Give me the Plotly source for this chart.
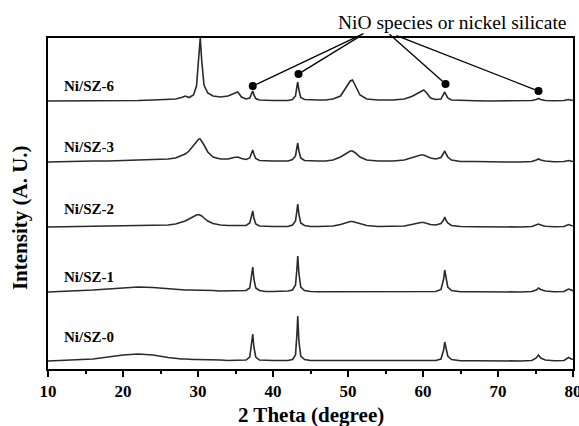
import plotly.graph_objects as go

# 2-theta sampling grid (degrees)
theta = [10, 12, 14, 16, 18, 20, 22, 24, 26, 27,
         27.8, 28.3, 28.8, 29.4, 29.8, 30.1, 30.3, 30.5, 30.8, 31.3,
         32, 33, 34, 34.8, 35.3, 35.8, 36.4, 36.9, 37.15, 37.3,
         37.45, 37.7, 38.2, 39, 40, 41, 42, 42.6, 43.0, 43.2,
         43.3, 43.45, 43.7, 44.2, 45, 46, 47, 48, 49, 49.8,
         50.3, 50.6, 51, 51.6, 52.5, 54, 56, 57.5, 58.5, 59.2,
         59.7, 60.1, 60.5, 61, 61.7, 62.4, 62.75, 62.9, 63.05, 63.3,
         63.8, 65, 67, 69, 71, 73, 74.5, 75.1, 75.4, 75.7,
         76.3, 77.5, 78.8, 79.4, 79.8, 80]

samples = ["Ni/SZ-0", "Ni/SZ-1", "Ni/SZ-2", "Ni/SZ-3", "Ni/SZ-6"]

sz0 = [0, 0.5, 1, 2, 4, 6, 7, 6, 3.5, 2.5,
       2, 2, 1.5, 1.5, 1.5, 1.5, 1.5, 1.5, 1.5, 1,
       1, 1, 0.5, 0.5, 0.5, 0.5, 1, 4, 17, 27,
       14, 4, 1, 0.5, 0.5, 0.5, 0.5, 1.5, 6, 28,
       45, 20, 5, 1.5, 0.5, 0.5, 0.5, 0.5, 0.5, 0.5,
       0.5, 0.5, 0.5, 0.5, 0.3, 0.3, 0.3, 0.3, 0.3, 0.3,
       0.3, 0.3, 0.3, 0.3, 0.5, 2, 11, 19, 12, 5,
       1.5, 0.3, 0.3, 0, 0, 0, 0.5, 3, 6, 3,
       1, 0.3, 0.5, 3.5, 2, 1.5]
sz1 = [0, 0.5, 1, 2, 3, 4, 5, 4.5, 3, 2.5,
       2, 2, 2, 2, 1.5, 1.5, 1.5, 1.5, 1.5, 1.5,
       1.5, 1, 1, 1, 1, 1, 1.5, 4, 16, 25,
       13, 4, 1.5, 0.5, 0.5, 0.5, 1, 2, 7, 24,
       36, 19, 5, 1.5, 0.5, 0.3, 0.3, 0.3, 0.3, 0.3,
       0.3, 0.3, 0.3, 0.3, 0.3, 0.3, 0.3, 0.3, 0.3, 0.3,
       0.3, 0.3, 0.3, 0.3, 0.5, 2.5, 13, 22, 14, 5,
       1.5, 0.3, 0.3, 0, 0, 0, 0.5, 2, 4, 2.5,
       1, 0.3, 0.5, 3, 2, 1]
sz2 = [0, 0.3, 0.5, 1, 1, 1.5, 1.5, 1.5, 2, 3,
       4.5, 6, 8, 10.5, 12, 12.5, 12, 11, 9, 6,
       3.5, 2, 1.5, 1.5, 1.5, 1.5, 1.5, 4, 11, 16,
       9, 3, 1, 0.5, 0.5, 0.5, 0.5, 2, 6, 17,
       23, 13, 4, 1.5, 0.5, 0.5, 0.5, 1, 2.5, 4.5,
       5.5, 5.5, 4.5, 3, 1.5, 0.5, 0.5, 1, 2.5, 4,
       4.5, 4.5, 3.5, 2.5, 2, 3.5, 7, 10, 7, 4,
       1.5, 0.5, 0.3, 0, 0, 0, 0.5, 2, 3, 2,
       0.8, 0.3, 0.5, 2.5, 1.5, 1]
sz3 = [0, 0.5, 0.5, 1, 1, 1.5, 1.5, 2, 3, 4,
       6, 8, 11, 17, 21, 23, 23, 21, 17, 10,
       5, 3, 3, 4.5, 5, 3.5, 2.5, 4, 9, 12,
       8, 3.5, 1.5, 1, 1, 1, 1, 2.5, 6, 15,
       19, 11, 4, 1.5, 1, 1, 1, 2, 5, 9,
       11, 11, 9, 5, 2, 1, 1, 2, 4, 6,
       7, 7, 5.5, 4, 3, 4.5, 9, 11, 8.5, 5,
       2, 0.5, 0.5, 0, 0, 0, 0.5, 2, 3, 2,
       1, 0.3, 0.5, 1.5, 1, 0.5]
sz6 = [0, 0, 0.5, 0.5, 0.5, 0.5, 0.5, 1, 1.5, 2,
       3.5, 5, 3.5, 6, 15, 45, 63, 40, 16, 8,
       5, 4, 5, 7.5, 9, 4, 2, 3, 8, 10,
       6, 2.5, 1, 0.5, 0.5, 0.5, 0.5, 1.5, 5, 15,
       19, 11, 3.5, 1.5, 1, 1, 1, 2, 5, 14,
       20, 21, 15, 6, 2, 1, 1, 2, 4.5, 7,
       9, 11, 8, 3, 1.5, 2, 7, 9, 6.5, 3,
       1, 0.5, 0.3, 0, 0, 0.3, 0.5, 1.5, 2.5, 1.5,
       0.5, 0.3, 0.5, 1.5, 1, 0.5]
series = [sz0, sz1, sz2, sz3, sz6]

# vertical stacking offsets (arbitrary intensity units)
offsets = [8, 77, 142, 207, 268]
label_y = [32, 92, 160, 222, 283]
label_x = 11.9

# NiO / nickel silicate markers on Ni/SZ-6
marker_theta = [37.3, 43.4, 63.0, 75.4]
marker_int = [283, 295, 285, 278]
# where each leader line leaves the caption
leader_theta = [52.27, 51.87, 55.33, 56.27]
leader_int = [336, 334, 336, 334]

xticks = [10, 20, 30, 40, 50, 60, 70, 80]

SERIF = "Liberation Serif"

fig = go.Figure()
for name, vals, off in zip(samples, series, offsets):
    fig.add_trace(go.Scatter(
        x=theta, y=[v + off for v in vals], mode="lines", name=name,
        line=dict(color="#2a2a2a", width=1.6), showlegend=False))

fig.add_trace(go.Scatter(
    x=marker_theta, y=marker_int, mode="markers",
    marker=dict(color="black", size=8), showlegend=False))

annotations = []
for name, ly in zip(samples, label_y):
    annotations.append(dict(
        x=label_x, y=ly, xref="x", yref="y", text="<b>" + name + "</b>",
        showarrow=False, xanchor="left", yanchor="middle",
        font=dict(family=SERIF, size=15, color="black")))

for mx, my, lx, ly in zip(marker_theta, marker_int, leader_theta, leader_int):
    annotations.append(dict(
        x=mx, y=my, xref="x", yref="y", ax=lx, ay=ly, axref="x", ayref="y",
        text="", showarrow=True, arrowhead=0, arrowwidth=1.3,
        arrowcolor="black", standoff=4))

annotations.append(dict(
    x=0.771, y=1, xref="paper", yref="paper", yshift=16,
    text="NiO species or nickel silicate", showarrow=False,
    xanchor="center", yanchor="middle",
    font=dict(family=SERIF, size=19.5, color="black")))
annotations.append(dict(
    x=0.5, y=0, xref="paper", yref="paper", yshift=-46,
    text="<b>2 Theta (degree)</b>", showarrow=False,
    xanchor="center", yanchor="middle",
    font=dict(family=SERIF, size=21, color="black")))
annotations.append(dict(
    x=0, y=0.456, xref="paper", yref="paper", xshift=-28,
    text="<b>Intensity (A. U.)</b>", showarrow=False, textangle=-90,
    xanchor="center", yanchor="middle",
    font=dict(family=SERIF, size=21, color="black")))

fig.update_layout(
    width=579, height=426,
    margin=dict(l=48, r=6, t=38, b=57),
    paper_bgcolor="white", plot_bgcolor="white",
    annotations=annotations,
    xaxis=dict(
        range=[10, 80], tickvals=xticks,
        ticktext=["<b>%d</b>" % t for t in xticks],
        automargin=False, ticklabeloverflow="allow",
        showgrid=False, zeroline=False,
        showline=True, linecolor="black", linewidth=2, mirror=True,
        ticks="outside", ticklen=6, tickwidth=1.5, tickcolor="black",
        minor=dict(dtick=5, tick0=10, ticks="outside", ticklen=3,
                   tickwidth=1.5, tickcolor="black"),
        tickfont=dict(family=SERIF, size=17, color="black")),
    yaxis=dict(
        range=[0, 331], showticklabels=False, ticks="", automargin=False,
        showgrid=False, zeroline=False,
        showline=True, linecolor="black", linewidth=2, mirror=True),
)

# remove the default 8 px page margin so the figure fills the window
fig.write_html(
    "out.html",
    config={"displayModeBar": False},
    post_script="document.body.style.margin='0';"
                "document.body.style.overflow='hidden';")
